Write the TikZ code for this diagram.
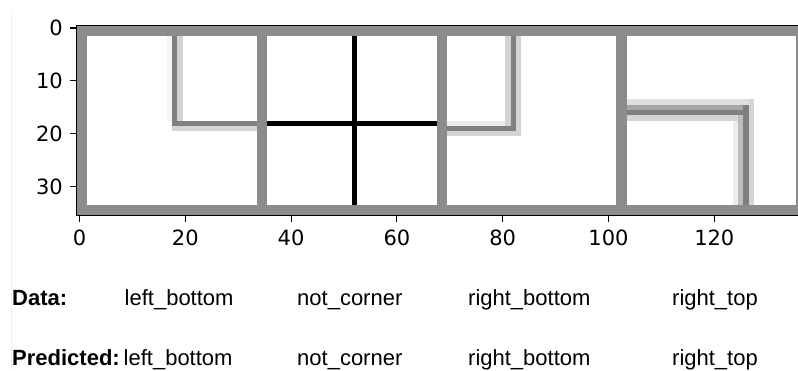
\documentclass[tikz,border=0pt]{standalone}
\usepackage{fontspec}
\setmainfont{Liberation Sans}
\newfontfamily\tickfont{DejaVu Sans}
\definecolor{bord}{gray}{0.55}
\definecolor{gA}{gray}{0.50}
\definecolor{gB}{gray}{0.65}
\definecolor{gC}{gray}{0.74}
\definecolor{gD}{gray}{0.83}
\definecolor{gE}{gray}{0.88}
\definecolor{gF}{gray}{0.93}
\definecolor{gG}{gray}{0.96}
\newcommand\pxs[5]{\fill[#1] (#2-0.5,#3-0.5) rectangle (#4+0.5,#5+0.5);}
\begin{document}
\begin{tikzpicture}[x=1pt,y=-1pt,
  ticklab/.style={font=\tickfont\fontsize{21}{24}\selectfont, inner sep=0pt},
  lab/.style={font=\fontsize{22}{26}\selectfont, inner sep=0pt, anchor=base west},
  boldlab/.style={lab, font=\bfseries\fontsize{22}{26}\selectfont},
  spine/.style={line width=1.1pt, black},
  tickmark/.style={line width=1.1pt, black}]
\useasboundingbox (0,0) rectangle (798,370);
\clip (0,0) rectangle (798,370);
% faint left edge line
\draw[gray!12, line width=1pt] (11,10) -- (11,370);
% image in data coordinates
\begin{scope}[shift={(79.5pt,-28pt)}, x=5.29pt, y=-5.29pt]
  \fill[bord] (-0.5,-0.5) rectangle (140,35.5);
  \foreach \k in {0,1,2,3} {
    \fill[white] ({34*\k+1.5},1.5) rectangle ({34*\k+33.5},33.5);
  }
  % tile 1: left_bottom
  \pxs{gG}{17}{2}{17}{17}
  \pxs{gD}{19}{2}{19}{19}
  \pxs{gD}{18}{19}{33}{19}
  \pxs{gA}{18}{2}{18}{18}
  \pxs{gA}{18}{18}{33}{18}
  % tile 2: not_corner
  \fill[black] (51.55,1.5) rectangle (52.45,33.5);
  \fill[black] (35.5,17.55) rectangle (67.5,18.45);
  % tile 3: right_bottom
  \pxs{gF}{70}{18}{82}{18}
  \pxs{gD}{81}{2}{81}{19}
  \pxs{gD}{83}{2}{83}{20}
  \pxs{gD}{70}{20}{83}{20}
  \pxs{gA}{82}{2}{82}{19}
  \pxs{gA}{70}{19}{82}{19}
  % tile 4: right_top
  \pxs{gF}{124}{17}{124}{33}
  \pxs{gE}{104}{14}{127}{14}
  \pxs{gD}{127}{14}{127}{33}
  \pxs{gD}{104}{17}{125}{17}
  \pxs{gC}{125}{15}{125}{33}
  \pxs{gB}{104}{15}{126}{15}
  \pxs{gA}{126}{15}{126}{33}
  \pxs{gA}{104}{16}{126}{16}
  % spines
  \draw[spine] (-0.5,35.5) -- (-0.5,-0.5) -- (140,-0.5);
  \draw[spine] (-0.5,35.5) -- (140,35.5);
  % ticks
  \foreach \v in {0,20,...,120} {
    \draw[tickmark] (\v,35.5) -- (\v,36.65);
  }
  \foreach \v in {0,10,20,30} {
    \draw[tickmark] (-0.5,\v) -- (-1.75,\v);
  }
\end{scope}
% y tick labels
\node[ticklab, anchor=east] (y0) at (63,28) {0};
\node[ticklab, anchor=east] (y10) at (63,80.9) {10};
\node[ticklab, anchor=east] (y20) at (63,133.8) {20};
\node[ticklab, anchor=east] (y30) at (63,186.7) {30};
% x tick labels
\node[ticklab, anchor=north] (x0) at (79.5,230) {0};
\node[ticklab, anchor=north] (x20) at (185.3,230) {20};
\node[ticklab, anchor=north] (x40) at (291.1,230) {40};
\node[ticklab, anchor=north] (x60) at (396.9,230) {60};
\node[ticklab, anchor=north] (x80) at (502.7,230) {80};
\node[ticklab, anchor=north] (x100) at (608.5,230) {100};
\node[ticklab, anchor=north] (x120) at (714.3,230) {120};
% labels
\node[boldlab] (dhead) at (12,305.5) {Data:};
\node[lab] (d1) at (124.5,305.5) {left\_bottom};
\node[lab] (d2) at (297,305.5) {not\_corner};
\node[lab] (d3) at (468,305.5) {right\_bottom};
\node[lab] (d4) at (672,305.5) {right\_top};
\node[boldlab] (phead) at (12,365) {Predicted:};
\node[lab] (p1) at (123.5,365) {left\_bottom};
\node[lab] (p2) at (297,365) {not\_corner};
\node[lab] (p3) at (468,365) {right\_bottom};
\node[lab] (p4) at (672,365) {right\_top};
\end{tikzpicture}
\end{document}
